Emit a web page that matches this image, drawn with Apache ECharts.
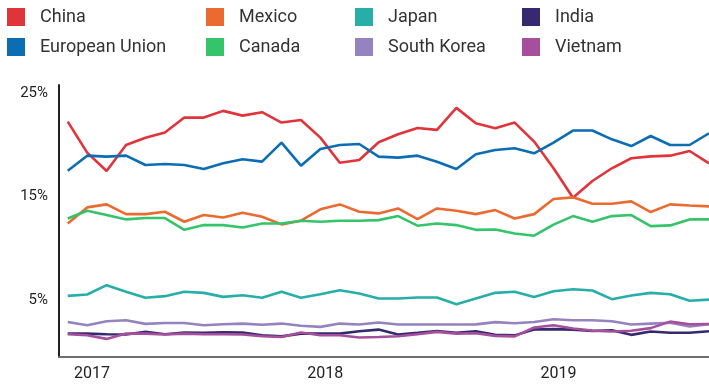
<!DOCTYPE html>
<html>
<head>
<meta charset="utf-8">
<style>
  html, body { margin: 0; padding: 0; background: #fff; }
  #chart { width: 709px; height: 385px; }
</style>
<script src="https://cdn.jsdelivr.net/npm/echarts@6/dist/echarts.min.js"></script>
</head>
<body>
<div id="chart"></div>
<script>
// Monthly share of imports by partner, Dec 2016 – Sep 2019 (percent)
const months = [
  '2016-12',
  '2017-01','2017-02','2017-03','2017-04','2017-05','2017-06','2017-07','2017-08','2017-09','2017-10','2017-11','2017-12',
  '2018-01','2018-02','2018-03','2018-04','2018-05','2018-06','2018-07','2018-08','2018-09','2018-10','2018-11','2018-12',
  '2019-01','2019-02','2019-03','2019-04','2019-05','2019-06','2019-07','2019-08','2019-09'
];

const china = [22.26, 19.26, 17.49, 20.0, 20.7, 21.2, 22.65, 22.65, 23.3, 22.84, 23.17, 22.17, 22.42, 20.71, 18.29, 18.55, 20.26, 21.04, 21.65, 21.46, 23.59, 22.1, 21.62, 22.17, 20.33, 17.75, 14.9, 16.52, 17.75, 18.72, 18.9, 18.97, 19.42, 18.23];
const eu = [17.52, 18.97, 18.88, 18.97, 18.07, 18.17, 18.07, 17.68, 18.23, 18.62, 18.39, 20.23, 18.0, 19.62, 20.0, 20.1, 18.88, 18.78, 18.97, 18.39, 17.68, 19.1, 19.52, 19.68, 19.2, 20.23, 21.4, 21.4, 20.55, 19.9, 20.87, 20.0, 20.0, 21.13];
const mexico = [12.42, 13.97, 14.26, 13.32, 13.32, 13.55, 12.58, 13.23, 13.0, 13.45, 13.07, 12.33, 12.68, 13.78, 14.26, 13.55, 13.39, 13.87, 12.84, 13.87, 13.65, 13.32, 13.71, 12.9, 13.32, 14.78, 14.94, 14.32, 14.32, 14.55, 13.52, 14.26, 14.16, 14.07];
const canada = [12.9, 13.65, 13.23, 12.81, 12.94, 12.94, 11.8, 12.26, 12.26, 12.03, 12.42, 12.42, 12.68, 12.58, 12.68, 12.68, 12.74, 13.13, 12.2, 12.42, 12.26, 11.8, 11.84, 11.45, 11.23, 12.3, 13.13, 12.58, 13.13, 13.23, 12.16, 12.23, 12.81, 12.81];
const japan = [5.42, 5.55, 6.45, 5.81, 5.23, 5.39, 5.81, 5.71, 5.32, 5.48, 5.23, 5.81, 5.23, 5.58, 5.97, 5.65, 5.16, 5.16, 5.26, 5.26, 4.61, 5.16, 5.71, 5.81, 5.32, 5.87, 6.06, 5.94, 5.1, 5.45, 5.71, 5.58, 4.94, 5.06];
const southKorea = [2.9, 2.58, 2.97, 3.06, 2.71, 2.8, 2.8, 2.58, 2.68, 2.74, 2.63, 2.74, 2.53, 2.42, 2.74, 2.65, 2.85, 2.65, 2.65, 2.65, 2.65, 2.66, 2.88, 2.77, 2.9, 3.16, 3.06, 3.06, 2.97, 2.65, 2.74, 2.82, 2.45, 2.68];
const india = [1.77, 1.77, 1.71, 1.68, 1.94, 1.71, 1.87, 1.84, 1.9, 1.87, 1.61, 1.5, 1.77, 1.77, 1.77, 2.0, 2.16, 1.68, 1.84, 2.03, 1.84, 2.0, 1.65, 1.6, 2.17, 2.2, 2.16, 2.03, 2.1, 1.65, 1.97, 1.85, 1.85, 2.0];
const vietnam = [1.71, 1.61, 1.26, 1.77, 1.77, 1.68, 1.77, 1.71, 1.71, 1.68, 1.52, 1.45, 1.87, 1.61, 1.61, 1.39, 1.45, 1.52, 1.71, 1.94, 1.77, 1.8, 1.55, 1.5, 2.36, 2.58, 2.26, 2.06, 1.97, 2.05, 2.3, 2.93, 2.68, 2.7];

const yTicks = [5, 15, 25];

const partners = [
  { name: 'China',          data: china,      color: '#e1343a' },
  { name: 'European Union', data: eu,         color: '#0c6db4' },
  { name: 'Mexico',         data: mexico,     color: '#ea6a30' },
  { name: 'Canada',         data: canada,     color: '#35c46a' },
  { name: 'Japan',          data: japan,      color: '#27aea8' },
  { name: 'South Korea',    data: southKorea, color: '#9483bf' },
  { name: 'India',          data: india,      color: '#36296f' },
  { name: 'Vietnam',        data: vietnam,    color: '#a54f9d' }
];

// Year labels sit a little after the January point of each year
const YEAR_LABEL_SHIFT = 0.25;
const yearLabelAt = months
  .map((m, i) => (m.endsWith('-01') ? i + YEAR_LABEL_SHIFT : null))
  .filter(v => v !== null);

const font = 'Roboto, "Noto Sans", sans-serif';

function legendColumn(names, left) {
  return {
    data: names,
    orient: 'vertical',
    left: left,
    top: 8,
    padding: 0,
    itemWidth: 18,
    itemHeight: 18,
    itemGap: 12,
    icon: 'rect',
    selectedMode: false,
    textStyle: {
      fontFamily: font,
      fontSize: 18,
      color: '#333',
      padding: [0, 0, 0, 10]
    }
  };
}

const chart = echarts.init(document.getElementById('chart'), null, { renderer: 'canvas' });

chart.setOption({
  animation: false,
  legend: [
    legendColumn(['China', 'European Union'], 7),
    legendColumn(['Mexico', 'Canada'], 206),
    legendColumn(['Japan', 'South Korea'], 355),
    legendColumn(['India', 'Vietnam'], 522)
  ],
  grid: { left: 59, right: 0, top: 85, bottom: 28, containLabel: false },
  xAxis: {
    type: 'value',
    min: -0.45,
    max: months.length - 1,
    splitLine: { show: false },
    axisTick: { show: false },
    axisLine: { show: true, onZero: false, lineStyle: { color: '#6e6e6e', width: 2 } },
    axisLabel: {
      customValues: yearLabelAt,
      formatter: v => months[Math.round(v - YEAR_LABEL_SHIFT)].slice(0, 4),
      fontFamily: font,
      fontSize: 16,
      color: '#222',
      margin: 9
    }
  },
  yAxis: {
    type: 'value',
    min: -0.49,
    max: 25.8,
    splitLine: { show: false },
    axisTick: { show: false },
    axisLine: { show: true, onZero: false, lineStyle: { color: '#222', width: 2 } },
    axisLabel: {
      customValues: yTicks,
      formatter: v => v + '%',
      fontFamily: font,
      fontSize: 15,
      color: '#222',
      margin: 11,
      padding: [4, 0, 0, 0]
    }
  },
  series: partners.map(p => ({
    name: p.name,
    type: 'line',
    data: p.data.map((v, i) => [i, v]),
    showSymbol: false,
    symbol: 'none',
    color: p.color,
    itemStyle: { color: p.color },
    lineStyle: { color: p.color, width: 2.6 },
    emphasis: { disabled: true }
  }))
});
</script>
</body>
</html>
